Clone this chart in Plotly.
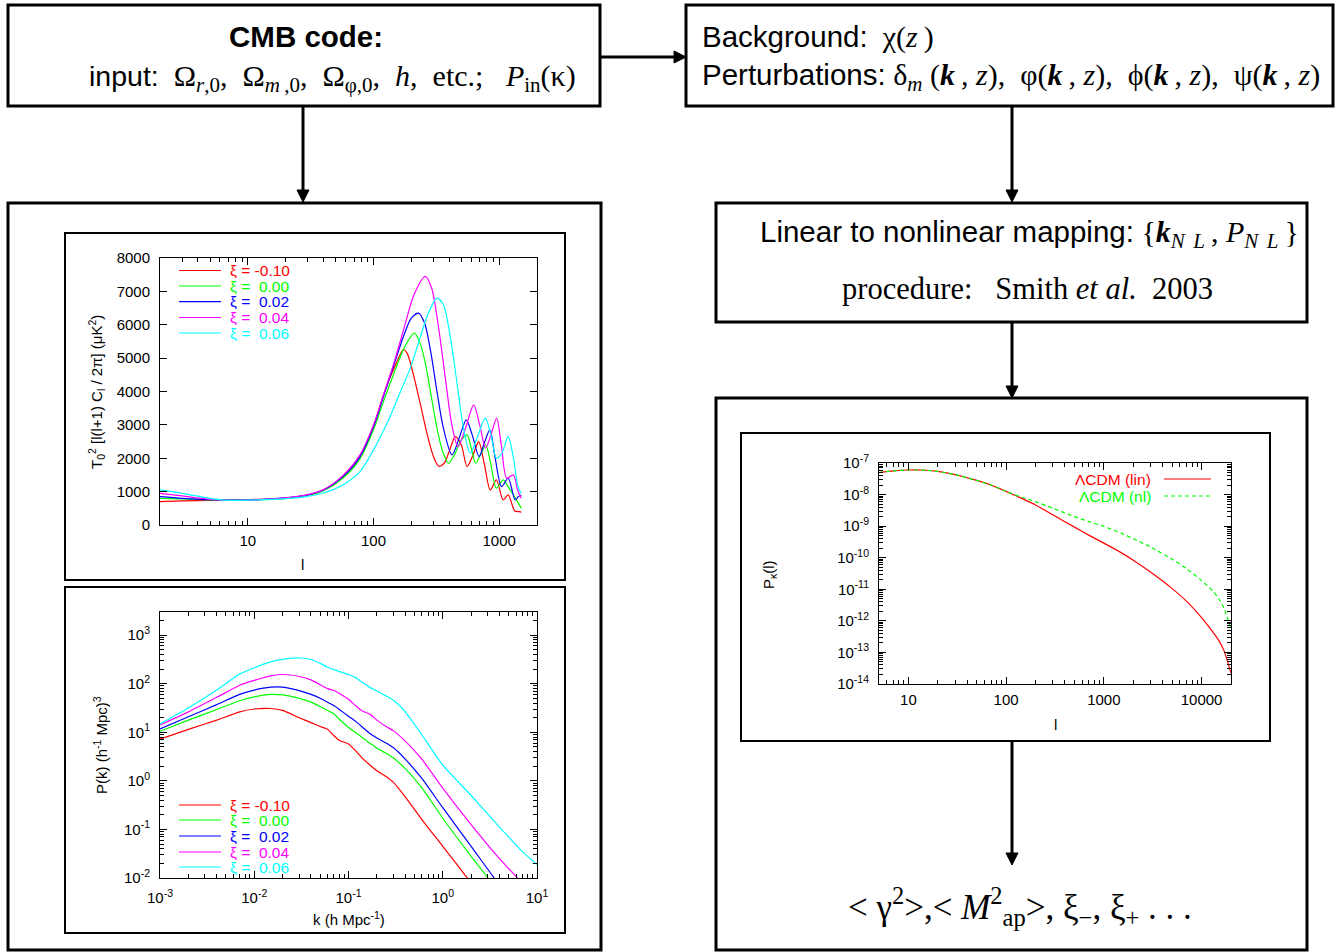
import plotly.graph_objects as go

W, H = 1343, 952
def X(px): return px / W
def Y(py): return 1 - py / H

# ---------------- data: CMB temperature spectra ----------------
xi_labels = ["-0.10", "\u00a00.00", "\u00a00.02", "\u00a00.04", "\u00a00.06"]
colors = ["#ff0000", "#00ff00", "#0000ff", "#ff00ff", "#00ffff"]

ell_m010 = [2, 3, 5, 10, 20, 30, 40, 57, 78, 100, 120, 144, 173, 185, 208, 235, 266, 300, 330, 365, 400, 448, 500, 555, 620, 687, 760, 850, 950, 1075, 1180, 1330, 1450, 1500]
cl_m010 = [700, 720, 740, 760, 800, 900, 1050, 1450, 2050, 2950, 3900, 4650, 5250, 5150, 4500, 3650, 2750, 2050, 1760, 1850, 2200, 2650, 2400, 1750, 2100, 2500, 1850, 1050, 1350, 750, 900, 420, 400, 380]

ell_000 = [2, 3, 5, 10, 20, 30, 40, 57, 78, 100, 120, 144, 175, 211, 235, 260, 290, 320, 355, 396, 440, 500, 555, 600, 650, 720, 783, 860, 950, 1075, 1180, 1300, 1400, 1500]
cl_000 = [800, 780, 755, 750, 800, 890, 1030, 1400, 1980, 2850, 3700, 4500, 5300, 5750, 5450, 4800, 3800, 2900, 2200, 1850, 2100, 2550, 2700, 2300, 1850, 2150, 2400, 1800, 1100, 1350, 1150, 900, 700, 500]

ell_002 = [2, 3, 5, 10, 20, 30, 40, 57, 78, 100, 120, 144, 175, 200, 228, 255, 285, 320, 360, 421, 480, 547, 610, 692, 760, 843, 930, 1045, 1180, 1340, 1420, 1500]
cl_002 = [850, 800, 760, 750, 810, 900, 1050, 1450, 2050, 2950, 3850, 4750, 5700, 6200, 6350, 6050, 5200, 4000, 2900, 2100, 2600, 3150, 2700, 2050, 2450, 2850, 2000, 1150, 1400, 750, 850, 900]

ell_004 = [2, 3, 5, 10, 20, 30, 40, 57, 78, 100, 120, 144, 175, 210, 258, 290, 330, 370, 420, 470, 540, 627, 700, 780, 860, 955, 1040, 1150, 1300, 1400, 1500]
cl_004 = [950, 870, 770, 745, 810, 910, 1060, 1480, 2100, 3000, 3900, 4800, 5900, 6900, 7450, 7100, 5900, 4500, 3000, 2350, 2900, 3600, 3000, 2300, 2700, 3200, 2400, 1400, 1500, 1050, 800]

ell_006 = [2, 3, 5, 7, 10, 20, 30, 40, 57, 78, 100, 130, 160, 196, 230, 270, 320, 360, 410, 460, 520, 589, 680, 776, 860, 950, 1050, 1180, 1300, 1420, 1500]
cl_006 = [1050, 950, 800, 740, 745, 790, 860, 960, 1200, 1600, 2250, 3100, 3900, 4700, 5500, 6300, 6800, 6600, 5600, 4300, 2900, 2150, 2700, 3200, 2700, 2000, 2150, 2650, 2000, 1100, 950]

# ---------------- data: matter power spectra ----------------
k_vals = [0.001, 0.002, 0.004, 0.007, 0.01, 0.015, 0.02, 0.03, 0.04, 0.05, 0.06, 0.07, 0.08, 0.1, 0.12, 0.14, 0.17, 0.2, 0.25, 0.3, 0.4, 0.6, 1, 2, 4, 7, 10]
pk_m010 = [7.2, 11.5, 17.8, 26.3, 30.2, 30.9, 28.2, 20.0, 15.8, 13.2, 11.5, 8.5, 6.8, 5.75, 4.1, 2.95, 2.1, 1.62, 1.23, 0.93, 0.47, 0.16, 0.045, 0.0079, 0.0013, 0.00032, 0.00013]
pk_000 = [10.5, 17.8, 29.5, 44.7, 53.7, 60.3, 58.9, 50.1, 41.7, 33.9, 28.2, 24.0, 18.6, 12.6, 9.8, 7.8, 5.9, 4.7, 3.7, 2.95, 1.78, 0.72, 0.17, 0.028, 0.005, 0.00126, 0.0005]
pk_002 = [11.7, 20.9, 37.2, 60.3, 74.1, 85.1, 85.1, 72.4, 60.3, 50.1, 41.7, 35.5, 29.5, 21.4, 16.6, 12.9, 9.3, 7.6, 6.0, 4.8, 2.8, 1.12, 0.28, 0.045, 0.0071, 0.0018, 0.00079]
pk_004 = [14.1, 26.3, 52.5, 93.3, 117, 145, 155, 141, 120, 95.5, 79.4, 72.4, 63.1, 47.9, 34.7, 27.5, 23.4, 17.8, 13.2, 10.7, 6.6, 2.8, 0.71, 0.126, 0.025, 0.0079, 0.004]
pk_006 = [14.8, 31.6, 74.1, 158, 214, 282, 316, 339, 316, 263, 219, 195, 178, 155, 132, 107, 83.2, 70.8, 56.2, 45.7, 26.3, 8.9, 2.1, 0.5, 0.112, 0.035, 0.019]

# ---------------- data: convergence power spectrum ----------------
ell_kappa = [5, 7, 10, 15, 20, 30, 50, 70, 100, 150, 200, 300, 500, 700, 1000, 1500, 2000, 3000, 5000, 7000, 10000, 13000, 15000, 17000, 20000]
pkappa_lin = [5.0e-8, 5.6e-8, 6.0e-8, 5.9e-8, 5.4e-8, 4.3e-8, 2.8e-8, 2.0e-8, 1.26e-8, 7.2e-9, 4.7e-9, 2.3e-9, 9.3e-10, 5.2e-10, 2.9e-10, 1.45e-10, 8.3e-11, 3.5e-11, 1.05e-11, 4.2e-12, 1.26e-12, 4.5e-13, 2.4e-13, 1.12e-13, 2.2e-14]
pkappa_nl = [5.0e-8, 5.6e-8, 6.0e-8, 5.9e-8, 5.4e-8, 4.3e-8, 2.8e-8, 2.0e-8, 1.26e-8, 7.9e-9, 6.0e-9, 3.7e-9, 2.0e-9, 1.4e-9, 9.8e-10, 6.0e-10, 4.0e-10, 2.2e-10, 8.9e-11, 4.5e-11, 1.9e-11, 8.9e-12, 5.0e-12, 2.5e-12, 5.4e-13]
kappa_names = ["\u039bCDM (lin)", "\u039bCDM (nl)"]

cmb_ell = [ell_m010, ell_000, ell_002, ell_004, ell_006]
cmb_cl = [cl_m010, cl_000, cl_002, cl_004, cl_006]
pk_all = [pk_m010, pk_000, pk_002, pk_004, pk_006]

SANS = "Liberation Sans"
SERIF = "Liberation Serif"

fig = go.Figure()
for i in range(5):
    fig.add_trace(go.Scatter(x=cmb_ell[i], y=cmb_cl[i], mode="lines", name="\u03be = " + xi_labels[i],
                             line=dict(color=colors[i], width=1.2, shape="spline", smoothing=0.8),
                             xaxis="x", yaxis="y", showlegend=False, hoverinfo="skip"))
for i in range(5):
    fig.add_trace(go.Scatter(x=k_vals, y=pk_all[i], mode="lines", name="\u03be = " + xi_labels[i],
                             line=dict(color=colors[i], width=1.2, shape="spline", smoothing=0.5),
                             xaxis="x2", yaxis="y2", showlegend=False, hoverinfo="skip"))
fig.add_trace(go.Scatter(x=ell_kappa, y=pkappa_lin, mode="lines", name=kappa_names[0],
                         line=dict(color="#ff0000", width=1.2, shape="spline", smoothing=0.6),
                         xaxis="x3", yaxis="y3", showlegend=False, hoverinfo="skip"))
fig.add_trace(go.Scatter(x=ell_kappa, y=pkappa_nl, mode="lines", name=kappa_names[1],
                         line=dict(color="#00ff00", width=1.2, dash="4px,3px", shape="spline", smoothing=0.6),
                         xaxis="x3", yaxis="y3", showlegend=False, hoverinfo="skip"))

def ax(**kw):
    d = dict(showline=True, linecolor="black", linewidth=1, mirror="allticks", ticks="inside",
             ticklen=7, tickcolor="black", tickwidth=1, showgrid=False, zeroline=False,
             ticklabelstandoff=6, automargin=False,
             tickfont=dict(family=SANS, size=15, color="black"))
    d.update(kw)
    return d

def log_minor(lo, hi):
    return [m * 10 ** e for e in range(lo, hi) for m in range(2, 10)]

minor_style = dict(ticks="inside", ticklen=4, tickcolor="black", showgrid=False)

def sup_labels(exps):
    return ["10<sup>%d</sup>" % e for e in exps]

fig.update_layout(
    template="none",
    width=W, height=H, margin=dict(l=0, r=0, t=0, b=0, pad=0, autoexpand=False), autosize=False,
    paper_bgcolor="white", plot_bgcolor="white", showlegend=False,
    xaxis=ax(type="log", domain=[X(160), X(537)], range=[0.30103, 3.30103], anchor="y",
             tickvals=[10, 100, 1000], ticktext=["10", "100", "1000"], ticklabelstandoff=2,
             minor=dict(tickvals=log_minor(0, 4), **minor_style)),
    yaxis=ax(domain=[Y(525), Y(258)], range=[0, 8000], dtick=1000, anchor="x"),
    xaxis2=ax(type="log", domain=[X(160), X(537)], range=[-3, 1], anchor="y2",
              tickvals=[1e-3, 1e-2, 1e-1, 1, 10], ticktext=sup_labels(range(-3, 2)),
              minor=dict(tickvals=log_minor(-3, 1), **minor_style)),
    yaxis2=ax(type="log", domain=[Y(878), Y(612)], range=[-2, 3.477], anchor="x2",
              tickvals=[1e-2, 1e-1, 1, 10, 100, 1000], ticktext=sup_labels(range(-2, 4)),
              minor=dict(tickvals=log_minor(-2, 4), **minor_style)),
    xaxis3=ax(type="log", domain=[X(879), X(1231)], range=[0.69897, 4.30103], anchor="y3",
              tickvals=[10, 100, 1000, 10000], ticktext=["10", "100", "1000", "10000"], ticklabelstandoff=2,
              minor=dict(tickvals=log_minor(0, 5), **minor_style)),
    yaxis3=ax(type="log", domain=[Y(684), Y(463)], range=[-14, -7], anchor="x3",
              tickvals=[10.0 ** e for e in range(-14, -6)], ticktext=sup_labels(range(-14, -6)),
              minor=dict(tickvals=log_minor(-14, -7), **minor_style)),
)

shapes = []
def rect(x0, y0, x1, y1, w):
    shapes.append(dict(type="rect", xref="paper", yref="paper", x0=X(x0), x1=X(x1), y0=Y(y1), y1=Y(y0),
                       line=dict(color="black", width=w), fillcolor="rgba(0,0,0,0)", layer="above"))

def hline(x0, x1, y, color="black", w=3, dash="solid"):
    shapes.append(dict(type="line", xref="paper", yref="paper", x0=X(x0), x1=X(x1), y0=Y(y), y1=Y(y),
                       line=dict(color=color, width=w, dash=dash)))

def vline(x, y0, y1, w=3):
    shapes.append(dict(type="line", xref="paper", yref="paper", x0=X(x), x1=X(x), y0=Y(y0), y1=Y(y1),
                       line=dict(color="black", width=w)))

def head_down(x, ytip):
    p = "M %f %f L %f %f L %f %f Z" % (X(x - 6), Y(ytip - 12), X(x + 6), Y(ytip - 12), X(x), Y(ytip))
    shapes.append(dict(type="path", xref="paper", yref="paper", path=p, fillcolor="black",
                       line=dict(color="black", width=1)))

def head_right(xtip, y):
    p = "M %f %f L %f %f L %f %f Z" % (X(xtip - 12), Y(y - 6), X(xtip - 12), Y(y + 6), X(xtip), Y(y))
    shapes.append(dict(type="path", xref="paper", yref="paper", path=p, fillcolor="black",
                       line=dict(color="black", width=1)))

# boxes
rect(8, 5, 600, 106, 3)
rect(686, 5, 1333, 106, 3)
rect(8, 203, 601, 950, 3)
rect(716, 203, 1307, 322, 3)
rect(716, 398, 1307, 950, 3)
# inner chart frames
rect(65, 233, 565, 580, 2)
rect(65, 587, 565, 933, 2)
rect(741, 433, 1270, 741, 2)

# arrows
hline(601, 676, 57)
head_right(686, 57)
vline(303, 106, 190)
head_down(303, 202)
vline(1012, 106, 190)
head_down(1012, 202)
vline(1012, 322, 386)
head_down(1012, 398)
vline(1012, 741, 853)
head_down(1012, 865)

annotations = []
def text(x, y, s, size, family=SANS, color="black", xanchor="center", angle=0):
    annotations.append(dict(xref="paper", yref="paper", x=X(x), y=Y(y), text=s, showarrow=False,
                            xanchor=xanchor, yanchor="middle", textangle=angle,
                            font=dict(family=family, size=size, color=color)))

# legends for the CMB and P(k) panels
leg_rows_1 = [270.5, 286, 301.7, 317.5, 333]
leg_rows_2 = [805, 820, 836, 852, 867]
for rows in (leg_rows_1, leg_rows_2):
    for i, yy in enumerate(rows):
        hline(179, 221, yy, color=colors[i], w=1.2)
        text(228, yy, "\u03be = " + xi_labels[i], 15.5, color=colors[i], xanchor="left")

# legend for the convergence panel
hline(1164, 1211, 479, color="#ff0000", w=1.2)
hline(1164, 1211, 496, color="#00ff00", w=1.2, dash="4px,3px")
text(1153, 479, kappa_names[0], 15.5, color="#ff0000", xanchor="right")
text(1153, 496, kappa_names[1], 15.5, color="#00ff00", xanchor="right")

# axis titles
text(302, 564, "l", 15)
text(96, 392, "T<sub>0</sub><sup>2</sup> [l(l+1) C<sub>l</sub> / 2\u03c0] (\u03bcK<sup>2</sup>)", 15, angle=-90)
text(349, 918, "k (h Mpc<sup>-1</sup>)", 15)
text(100, 745, "P(k) (h<sup>-1</sup> Mpc)<sup>3</sup>", 15, angle=-90)
text(1055, 724, "l", 15)
text(769, 575, "P<sub>\u03ba</sub>(l)", 15, angle=-90)

# flowchart texts
def sans(s, size=29.5):
    return "<span style=\"font-family:Liberation Sans;font-size:%spx\">%s</span>" % (size, s)

TS = "\u2009"
text(306, 37, "<b>CMB code:</b>", 29.5)
text(87, 78, sans("input:", 28.5) + "  \u03a9<sub><i>r</i>,0</sub>,  \u03a9<sub><i>m</i>" + TS + ",0</sub>,  \u03a9<sub>\u03c6,0</sub>,  <i>h</i>,  etc.;   <i>P</i><sub>in</sub>(\u03ba)",
     30, family=SERIF, xanchor="left")
text(700, 37, sans("Background:") + "  \u03c7(<i>z</i>" + TS + ")", 30, family=SERIF, xanchor="left")
text(700, 77, sans("Perturbations:") + " \u03b4<sub><i>m</i></sub> (<b><i>k</i></b>" + TS + ", <i>z</i>),  \u03c6(<b><i>k</i></b>" + TS + ", <i>z</i>),  \u03d5(<b><i>k</i></b>" + TS + ", <i>z</i>),  \u03c8(<b><i>k</i></b>" + TS + ", <i>z</i>)",
     30, family=SERIF, xanchor="left")
text(758, 234, sans("Linear to nonlinear mapping:") + " {<b><i>k</i></b><sub><i>N" + TS + TS + "L</i></sub>" + TS + ", <i>P</i><sub><i>N" + TS + TS + "L</i></sub>" + TS + "}",
     30, family=SERIF, xanchor="left")
text(1027, 289, "procedure:   Smith <i>et al.</i>  2003", 30.5, family=SERIF)
text(1020, 906, "&lt; \u03b3<sup>2</sup>&gt;,&lt; <i>M</i><sup>2</sup><sub>ap</sub>&gt;, \u03be<sub>\u2212</sub>, \u03be<sub>+</sub> . . .", 35, family=SERIF)

fig.update_layout(shapes=shapes, annotations=annotations)
fig.write_html("out.html", post_script="document.body.style.margin='0';document.body.style.padding='0';document.documentElement.style.overflow='hidden';document.body.style.overflow='hidden';")
